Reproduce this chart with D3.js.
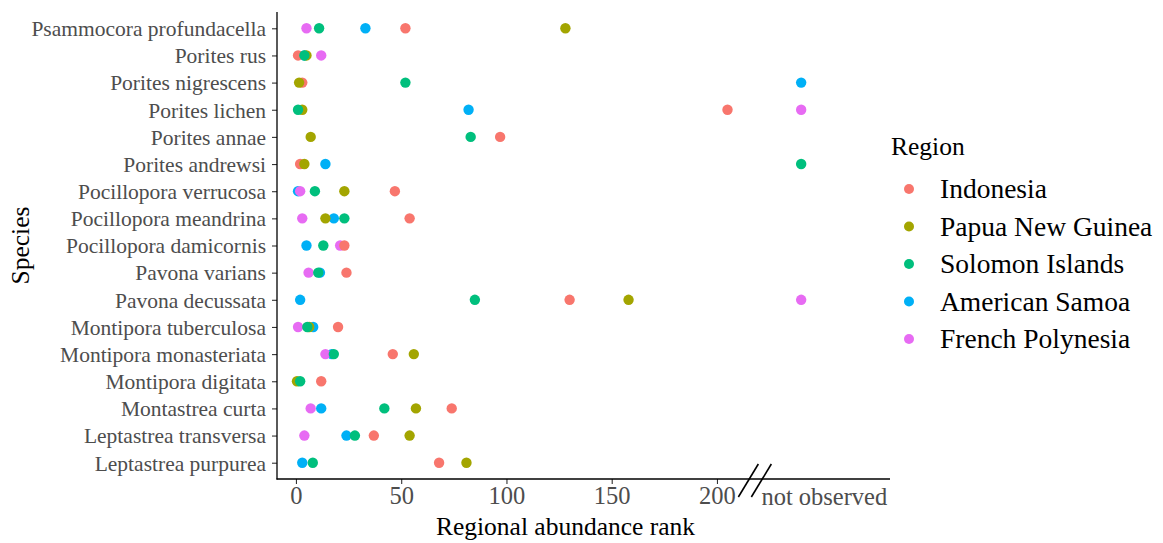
<!DOCTYPE html>
<html>
<head>
<meta charset="utf-8">
<script src="https://cdn.jsdelivr.net/npm/d3@7"></script>
<style>
  html, body { margin: 0; padding: 0; background: #fff; }
  svg { display: block; font-family: "Liberation Serif", "Times New Roman", serif; }
</style>
</head>
<body>
<svg id="chart" width="1163" height="543"></svg>
<script>
// Species, top to bottom
const species = [
  "Psammocora profundacella", "Porites rus", "Porites nigrescens", "Porites lichen",
  "Porites annae", "Porites andrewsi", "Pocillopora verrucosa", "Pocillopora meandrina",
  "Pocillopora damicornis", "Pavona varians", "Pavona decussata", "Montipora tuberculosa",
  "Montipora monasteriata", "Montipora digitata", "Montastrea curta",
  "Leptastrea transversa", "Leptastrea purpurea"
];

const regions = ["Indonesia", "Papua New Guinea", "Solomon Islands", "American Samoa", "French Polynesia"];
const regionColors = ["#F8766D", "#A3A500", "#00BF7D", "#00B0F6", "#E76BF3"];

// Regional abundance rank per species (same order as `species`).
// "NO" = species not observed in that region; undefined = no record.
const NO = "NO";
const indonesia      = [52, 1, 3, 205, 97, 2, 47, 54, 23, 24, 130, 20, 46, 12, 74, 37, 68];
const papuaNewGuinea = [128, 5, 1.5, 3, 7, 4, 23, 14, undefined, undefined, 158, 6.3, 56, 0.5, 57, 54, 81];
const solomonIslands = [11, 4, 52, 1, 83, NO, 9, 23, 13, 10.6, 85, 5.4, 18, 2, 42, 28, 8];
const americanSamoa  = [33, 4, NO, 82, undefined, 14, 1, 18, 5, 11.4, 2, 8.2, 17, undefined, 12, 24, 3];
const frenchPolynesia= [5, 12, undefined, NO, undefined, undefined, 2, 3, 21, 6, NO, 1, 14, undefined, 7, 4, undefined];

const seriesByRegion = [indonesia, papuaNewGuinea, solomonIslands, americanSamoa, frenchPolynesia];

const xTicks = [0, 50, 100, 150, 200];
const xTickLabels = ["0", "50", "100", "150", "200"];
const notObservedLabel = "not observed";

// Rank used to place unobserved points, the label under them, and the axis break
const notObservedRank = 240;
const notObservedLabelRank = 251;
const breakRank = 218;

const svg = d3.select("#chart");
const panel = { left: 277, right: 890, top: 12, bottom: 479 };

const x = d3.scaleLinear().domain([-9, 282.2]).range([panel.left, panel.right]);
const y = d3.scalePoint().domain(species).range([panel.top, panel.bottom]).padding(0.6);
const color = d3.scaleOrdinal().domain(regions).range(regionColors);

// Flatten into point records
const drawOrder = [3, 4, 0, 1, 2];
const points = [];
drawOrder.forEach(ri => {
  seriesByRegion[ri].forEach((v, si) => {
    if (v === undefined) return;
    points.push({
      species: species[si],
      region: regions[ri],
      rank: v === NO ? notObservedRank : v
    });
  });
});

// Points
svg.append("g")
  .selectAll("circle")
  .data(points)
  .join("circle")
  .attr("cx", d => x(d.rank))
  .attr("cy", d => y(d.species))
  .attr("r", 5.2)
  .attr("fill", d => color(d.region));

// Y axis
const yAxis = svg.append("g")
  .attr("transform", `translate(${panel.left},0)`)
  .call(d3.axisLeft(y).tickSize(5).tickPadding(6));
yAxis.select(".domain").remove();
yAxis.selectAll(".tick line").attr("stroke", "#333").attr("stroke-width", 1.1);
yAxis.selectAll(".tick text")
  .attr("fill", "#4D4D4D")
  .attr("dy", "0.34em")
  .style("font-family", "Liberation Serif, serif")
  .style("font-size", "21.5px");
svg.append("line")
  .attr("x1", panel.left).attr("x2", panel.left)
  .attr("y1", panel.top).attr("y2", panel.bottom + 0.5)
  .attr("stroke", "#000").attr("stroke-width", 1.3);

// X axis
const xAxis = svg.append("g")
  .attr("transform", `translate(0,${panel.bottom})`)
  .call(d3.axisBottom(x).tickValues(xTicks).tickFormat((d, i) => xTickLabels[i]).tickSize(5).tickPadding(3));
xAxis.select(".domain").remove();
xAxis.selectAll(".tick line").attr("stroke", "#333").attr("stroke-width", 1.1);
xAxis.selectAll(".tick text")
  .attr("fill", "#4D4D4D")
  .style("font-family", "Liberation Serif, serif")
  .style("font-size", "24.5px");
svg.append("line")
  .attr("x1", panel.left - 0.5).attr("x2", panel.right)
  .attr("y1", panel.bottom).attr("y2", panel.bottom)
  .attr("stroke", "#000").attr("stroke-width", 1.3);

svg.append("text")
  .attr("x", x(notObservedLabelRank))
  .attr("y", panel.bottom + 26)
  .attr("text-anchor", "middle")
  .attr("fill", "#4D4D4D")
  .style("font-size", "24.5px")
  .text(notObservedLabel);

// Axis break marks
const bx = x(breakRank);
[-6.5, 6.5].forEach(off => {
  svg.append("line")
    .attr("x1", bx + off - 10).attr("y1", panel.bottom + 18)
    .attr("x2", bx + off + 10).attr("y2", panel.bottom - 15)
    .attr("stroke", "#000").attr("stroke-width", 1.6);
});

// Axis titles
svg.append("text")
  .attr("x", (panel.left + panel.right) / 2 - 18)
  .attr("y", 535)
  .attr("text-anchor", "middle")
  .attr("fill", "#000")
  .style("font-size", "25.5px")
  .text("Regional abundance rank");

svg.append("text")
  .attr("transform", `translate(29,${(panel.top + panel.bottom) / 2}) rotate(-90)`)
  .attr("text-anchor", "middle")
  .attr("fill", "#000")
  .style("font-size", "25.5px")
  .text("Species");

// Legend
const legend = svg.append("g").attr("transform", "translate(891,0)");
legend.append("text")
  .attr("x", 0).attr("y", 155)
  .attr("fill", "#000")
  .style("font-size", "25.5px")
  .text("Region");
const items = legend.selectAll("g.item")
  .data(regions)
  .join("g")
  .attr("class", "item")
  .attr("transform", (d, i) => `translate(0,${189 + i * 37.5})`);
items.append("circle")
  .attr("cx", 18).attr("cy", 0).attr("r", 5)
  .attr("fill", d => color(d));
items.append("text")
  .attr("x", 49).attr("y", 9)
  .attr("fill", "#000")
  .style("font-size", "27.5px")
  .text(d => d);
</script>
</body>
</html>
